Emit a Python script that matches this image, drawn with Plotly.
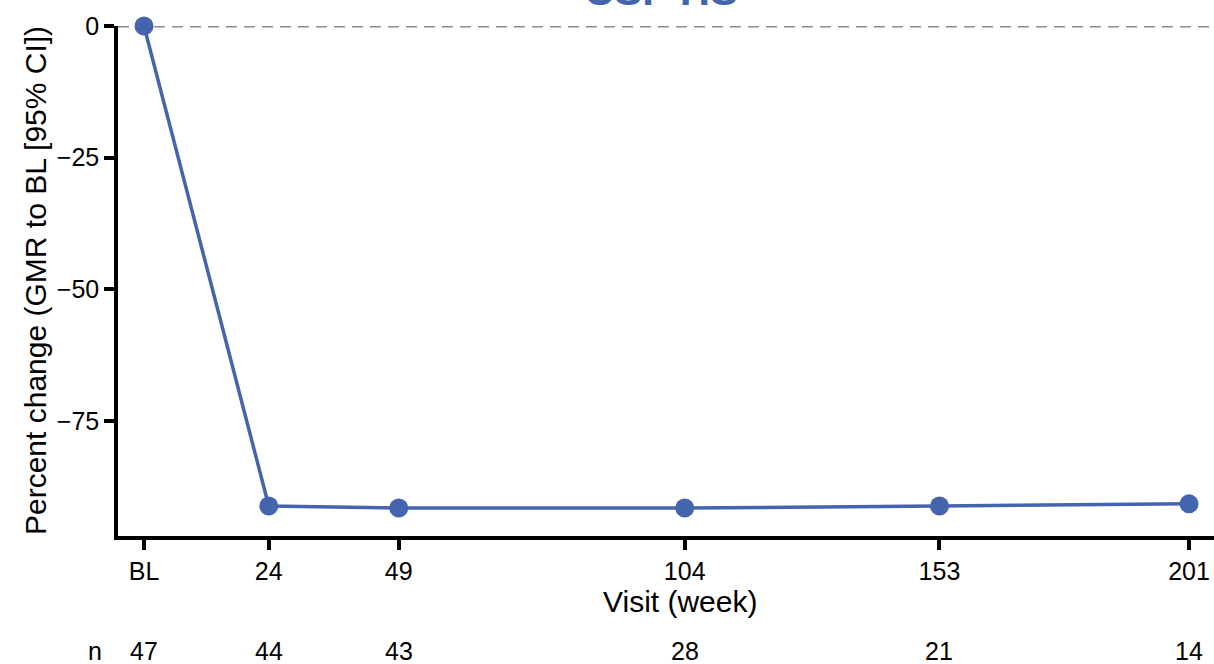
import plotly.graph_objects as go

# Visit schedule (weeks from baseline) and labels
weeks = [0, 24, 49, 104, 153, 201]
week_labels = ["BL", "24", "49", "104", "153", "201"]

# Percent change in CSF HS, geometric mean ratio to baseline
pct_change = [0.0, -91.1, -91.5, -91.5, -91.1, -90.7]

# Number of participants at each visit
n_at_visit = [47, 44, 43, 28, 21, 14]

y_ticks = [0, -25, -50, -75]

BLUE = "#4464AD"
FONT = "Liberation Sans, Arial, sans-serif"

fig = go.Figure()

fig.add_trace(go.Scatter(
    x=weeks,
    y=pct_change,
    mode="lines+markers",
    line=dict(color=BLUE, width=3.5),
    marker=dict(color=BLUE, size=19),
    cliponaxis=False,
    showlegend=False,
    hoverinfo="skip",
))

# Reference line at no change
fig.add_shape(
    type="line", xref="paper", yref="y",
    x0=0, x1=1, y0=0, y1=0,
    line=dict(color="#8C8C8C", width=3, dash="11px,7px"),
    layer="below",
)

annotations = []

# Title, sitting at the very top edge
annotations.append(dict(
    text="<b>CSF HS</b>", xref="paper", yref="paper",
    x=(661 - 118) / 1096, y=1.02, xanchor="center", yanchor="bottom",
    showarrow=False, font=dict(family=FONT, size=42, color=BLUE),
))

# Axis titles
annotations.append(dict(
    text="Visit (week)", xref="paper", yref="paper",
    x=(680 - 118) / 1096, y=(536 - 601) / 510,
    xanchor="center", yanchor="middle", showarrow=False,
    font=dict(family=FONT, size=30, color="black"),
))
annotations.append(dict(
    text="Percent change (GMR to BL [95% CI])", xref="paper", yref="paper",
    x=(35 - 118) / 1096, y=0.5, textangle=-90,
    xanchor="center", yanchor="middle", showarrow=False,
    font=dict(family=FONT, size=30, color="black"),
))

# Numbers at risk row
n_row_y = (536 - 651) / 510
annotations.append(dict(
    text="n", xref="paper", yref="paper", x=(95 - 118) / 1096, y=n_row_y,
    xanchor="center", yanchor="middle", showarrow=False,
    font=dict(family=FONT, size=25, color="black"),
))
for wk, n in zip(weeks, n_at_visit):
    annotations.append(dict(
        text=str(n), xref="x", yref="paper", x=wk, y=n_row_y,
        xanchor="center", yanchor="middle", showarrow=False,
        font=dict(family=FONT, size=25, color="black"),
    ))

fig.update_layout(
    width=1214,
    height=664,
    margin=dict(l=118, r=0, t=26, b=128, pad=0),
    paper_bgcolor="white",
    plot_bgcolor="white",
    font=dict(family=FONT, size=25, color="black"),
    annotations=annotations,
    xaxis=dict(
        range=[-5, 205.8],
        tickvals=weeks,
        ticktext=week_labels,
        showline=True, linecolor="black", linewidth=3.5,
        ticks="outside", ticklen=10, tickwidth=3.5, tickcolor="black",
        showgrid=False, zeroline=False,
        tickfont=dict(family=FONT, size=25, color="black"),
    ),
    yaxis=dict(
        range=[-96.8, 0],
        tickvals=y_ticks,
        showline=True, linecolor="black", linewidth=3.5,
        ticks="outside", ticklen=10, tickwidth=3.5, tickcolor="black",
        showgrid=False, zeroline=False,
        tickfont=dict(family=FONT, size=25, color="black"),
    ),
)

fig.write_html("out.html")
